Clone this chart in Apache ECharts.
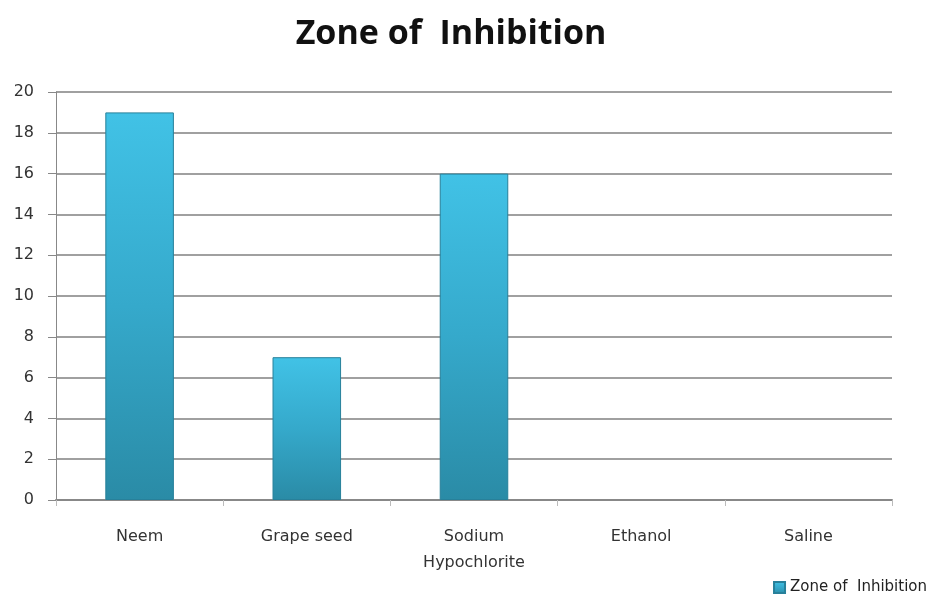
<!DOCTYPE html>
<html style="height: 100%">
<head>
<meta charset="utf-8">
<script src="https://cdn.jsdelivr.net/npm/echarts@6/dist/echarts.min.js"></script>
</head>
<body style="height: 100%; margin: 0; background: #fff">
<div id="container" style="width: 936px; height: 600px"></div>
<script type="text/javascript">
var categories = ['Neem', 'Grape seed', 'Sodium\nHypochlorite', 'Ethanol', 'Saline'];
var inhibition = [19, 7, 16, 0, 0];
var seriesName = 'Zone of  Inhibition';

var chart = echarts.init(document.getElementById('container'));

var barColor = new echarts.graphic.LinearGradient(0, 0, 0, 1, [
  { offset: 0, color: '#41c2e6' },
  { offset: 0.5, color: '#35a9cb' },
  { offset: 1, color: '#2a8ba6' }
]);

// zero bars get no outline so nothing shows on the axis
var barData = inhibition.map(function (v) {
  return { value: v, itemStyle: { borderWidth: v > 0 ? 1 : 0 } };
});

var option = {
  animation: false,
  title: {
    text: 'Zone of  Inhibition',
    left: 446,
    textAlign: 'center',
    top: 12,
    textStyle: { fontFamily: 'Open Sans', fontWeight: 'bold', fontSize: 34, color: '#111' }
  },
  legend: {
    right: 4,
    bottom: 0,
    itemWidth: 11,
    itemHeight: 11,
    itemGap: 4,
    icon: 'rect',
    textStyle: { fontFamily: 'DejaVu Sans', fontSize: 15, color: '#222' },
    data: [seriesName]
  },
  grid: { left: 56, right: 44, top: 92, bottom: 100 },
  xAxis: {
    type: 'category',
    data: categories,
    axisLine: { lineStyle: { color: '#888', width: 2 } },
    axisTick: { show: true, length: 6, lineStyle: { color: '#bbb' } },
    axisLabel: {
      fontFamily: 'DejaVu Sans',
      fontSize: 16,
      color: '#333',
      margin: 24,
      lineHeight: 26
    }
  },
  yAxis: {
    type: 'value',
    min: 0,
    max: 20,
    interval: 2,
    axisLine: { show: true, lineStyle: { color: '#888', width: 1 } },
    axisTick: { show: true, length: 8, lineStyle: { color: '#888' } },
    axisLabel: { fontFamily: 'DejaVu Sans', fontSize: 16, color: '#333', margin: 22 },
    splitLine: { lineStyle: { color: '#a0a0a0', width: 2 } }
  },
  series: [{
    name: seriesName,
    type: 'bar',
    data: barData,
    barWidth: '41%',
    itemStyle: { color: barColor, borderColor: '#27809a', borderWidth: 1 }
  }]
};

chart.setOption(option);
</script>
</body>
</html>
